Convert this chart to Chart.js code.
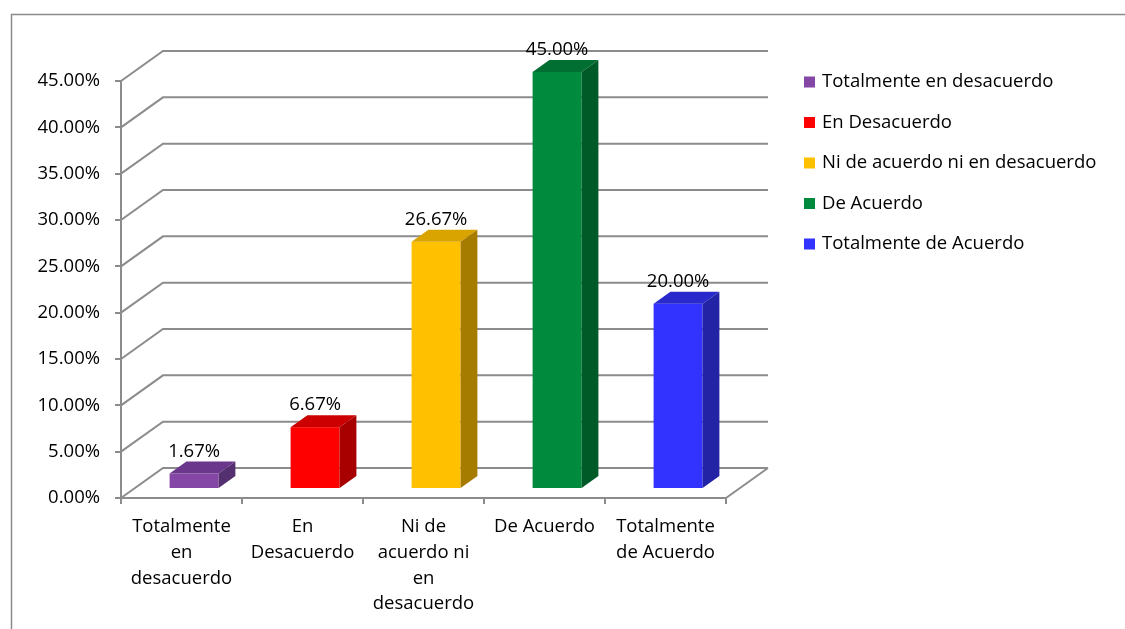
<!DOCTYPE html>
<html lang="es">
<head>
<meta charset="utf-8">
<title>Nivel de acuerdo</title>
<script src="https://cdn.jsdelivr.net/npm/chart.js@4/dist/chart.umd.min.js"></script>
<style>
  html, body { margin: 0; padding: 0; background: #ffffff; }
  #wrap { position: relative; width: 1125px; height: 629px; }
</style>
</head>
<body>
<div id="wrap"><canvas id="chart" width="1125" height="629"></canvas></div>
<script>
// Categories (x axis, multi-line) and legend names
const categories = [
  ['Totalmente', 'en', 'desacuerdo'],
  ['En', 'Desacuerdo'],
  ['Ni de', 'acuerdo ni', 'en', 'desacuerdo'],
  ['De Acuerdo'],
  ['Totalmente', 'de Acuerdo']
];
const legendNames = [
  'Totalmente en desacuerdo',
  'En Desacuerdo',
  'Ni de acuerdo ni en desacuerdo',
  'De Acuerdo',
  'Totalmente de Acuerdo'
];
// Percentages per answer
const percentages = [1.67, 6.67, 26.67, 45.00, 20.00];
// Y axis range and step (percent)
const yTicks = { min: 0, max: 45, step: 5 };

// Face colours for each column: front, top, right side
const frontColors = ['#8547a5', '#ff0000', '#ffc000', '#008a3e', '#3333ff'];
const topColors   = ['#6b378c', '#cc0000', '#d9a300', '#006f31', '#2a2acc'];
const sideColors  = ['#553070', '#a80000', '#a67c00', '#005a28', '#2323a6'];

// Oblique projection used for the floor, walls and columns
const DEPTH = { dx: 42, dy: -30 };
const COL_FRONT = 0.3, COL_BACK = 0.7;
const GRID = '#8c8c8c';
const FONT = '"Open Sans", Lato, sans-serif';
const FONT_SIZE = 18.5;

Chart.defaults.font.family = FONT;
Chart.defaults.font.size = FONT_SIZE;
Chart.defaults.color = '#000000';

const fmt = v => v.toFixed(2) + '%';

// Frame, back walls and floor drawn from the scales
const wallsPlugin = {
  id: 'walls',
  beforeDraw(chart) {
    const ctx = chart.ctx;
    ctx.save();
    ctx.strokeStyle = '#8a8a8a';
    ctx.lineWidth = 1.5;
    ctx.beginPath();
    ctx.moveTo(11.5, chart.height);
    ctx.lineTo(11.5, 14.5);
    ctx.lineTo(chart.width, 14.5);
    ctx.stroke();
    ctx.restore();
  },
  beforeDatasetsDraw(chart) {
    const ctx = chart.ctx;
    const y = chart.scales.y, area = chart.chartArea;
    ctx.save();
    ctx.strokeStyle = GRID;
    ctx.lineWidth = 2;
    y.ticks.forEach(t => {
      const py = y.getPixelForValue(t.value);
      ctx.beginPath();
      ctx.moveTo(area.left, py);
      ctx.lineTo(area.left + DEPTH.dx, py + DEPTH.dy);
      ctx.lineTo(area.right + DEPTH.dx, py + DEPTH.dy);
      ctx.stroke();
    });
    const base = y.getPixelForValue(yTicks.min);
    ctx.beginPath();
    ctx.moveTo(area.right, base);
    ctx.lineTo(area.right + DEPTH.dx, base + DEPTH.dy);
    ctx.stroke();
    ctx.restore();
  }
};

// Columns as boxes, built from the bar elements laid out by the scales
const columnsPlugin = {
  id: 'columns3d',
  beforeDatasetDraw() { return false; },
  afterDatasetsDraw(chart) {
    const ctx = chart.ctx;
    const meta = chart.getDatasetMeta(0);
    const fx = DEPTH.dx * COL_FRONT, fy = DEPTH.dy * COL_FRONT;
    const bx = DEPTH.dx * COL_BACK,  by = DEPTH.dy * COL_BACK;
    ctx.save();
    meta.data.forEach((el, i) => {
      const p = el.getProps(['x', 'y', 'base', 'width'], true);
      const x0 = p.x - p.width / 2, x1 = p.x + p.width / 2;
      const top = p.y, base = p.base;
      // front
      ctx.fillStyle = frontColors[i];
      ctx.fillRect(x0 + fx, top + fy, x1 - x0, base - top);
      // top
      ctx.fillStyle = topColors[i];
      ctx.beginPath();
      ctx.moveTo(x0 + fx, top + fy);
      ctx.lineTo(x1 + fx, top + fy);
      ctx.lineTo(x1 + bx, top + by);
      ctx.lineTo(x0 + bx, top + by);
      ctx.closePath();
      ctx.fill();
      // right side
      ctx.fillStyle = sideColors[i];
      ctx.beginPath();
      ctx.moveTo(x1 + fx, top + fy);
      ctx.lineTo(x1 + bx, top + by);
      ctx.lineTo(x1 + bx, base + by);
      ctx.lineTo(x1 + fx, base + fy);
      ctx.closePath();
      ctx.fill();
      // value label
      ctx.fillStyle = '#000000';
      ctx.font = FONT_SIZE + 'px ' + FONT;
      ctx.textAlign = 'center';
      ctx.textBaseline = 'alphabetic';
      ctx.fillText(fmt(percentages[i]), p.x + fx, top + by - 5);
    });
    ctx.restore();
  }
};

// Legend: one entry per answer
const legendPlugin = {
  id: 'answerLegend',
  afterDraw(chart) {
    const ctx = chart.ctx;
    ctx.save();
    ctx.font = FONT_SIZE + 'px ' + FONT;
    ctx.textAlign = 'left';
    ctx.textBaseline = 'middle';
    legendNames.forEach((name, i) => {
      const cy = 82 + i * 40.5;
      ctx.fillStyle = frontColors[i];
      ctx.fillRect(804, cy - 5.5, 11, 11);
      ctx.fillStyle = '#000000';
      ctx.fillText(name, 822, cy);
    });
    ctx.restore();
  }
};

new Chart(document.getElementById('chart'), {
  type: 'bar',
  data: {
    labels: categories,
    datasets: [{
      label: 'Porcentaje',
      data: percentages,
      backgroundColor: frontColors,
      barPercentage: 0.405,
      categoryPercentage: 1
    }]
  },
  options: {
    responsive: false,
    animation: false,
    events: [],
    layout: { padding: { left: 0, top: 81, right: 399, bottom: 0 } },
    plugins: { legend: { display: false }, tooltip: { enabled: false } },
    scales: {
      x: {
        offset: true,
        grid: { display: true, drawOnChartArea: false, drawTicks: true, tickLength: 6, color: GRID, lineWidth: 2, offset: true },
        border: { display: true, color: GRID, width: 2 },
        ticks: { maxRotation: 0, autoSkip: false, padding: 10, font: { size: FONT_SIZE, lineHeight: '25.7px' } },
        afterFit(s) { s.height = 131; }
      },
      y: {
        min: yTicks.min,
        max: yTicks.max,
        grid: { display: true, drawOnChartArea: false, drawTicks: true, tickLength: 6, color: GRID, lineWidth: 2 },
        border: { display: true, color: GRID, width: 2 },
        ticks: { stepSize: yTicks.step, padding: 15, callback: v => fmt(v), font: { size: FONT_SIZE } },
        afterFit(s) { s.width = 121; }
      }
    }
  },
  plugins: [wallsPlugin, columnsPlugin, legendPlugin]
});
</script>
</body>
</html>
